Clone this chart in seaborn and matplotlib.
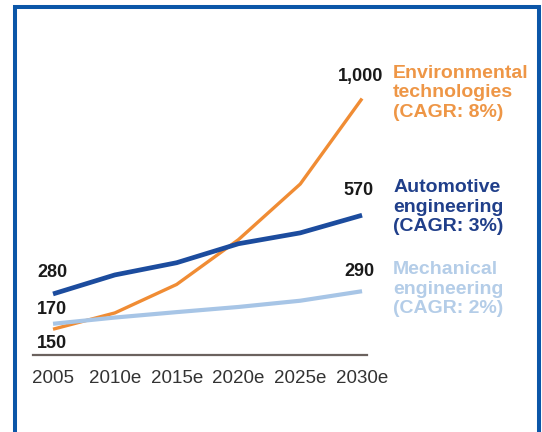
import matplotlib
matplotlib.use("Agg")
import matplotlib.pyplot as plt
from matplotlib.patches import Rectangle
import seaborn as sns
import pandas as pd

# Market volume index by sector
years = [2005, 2010, 2015, 2020, 2025, 2030]
tick_labels = ["2005", "2010e", "2015e", "2020e", "2025e", "2030e"]
environmental = [150, 210, 315, 480, 685, 1000]
automotive = [280, 350, 395, 465, 505, 570]
mechanical = [170, 193, 213, 232, 255, 290]

series_names = ["Environmental\ntechnologies\n(CAGR: 8%)",
                "Automotive\nengineering\n(CAGR: 3%)",
                "Mechanical\nengineering\n(CAGR: 2%)"]
series_keys = ["env", "auto", "mech"]
line_colors = ["#F08C34", "#1C4C9E", "#A7C5E6"]
text_colors = ["#EE9646", "#203F8A", "#B4CDE8"]
line_widths = [2.4, 3.4, 3.0]

sns.set_theme(style="white")
plt.rcParams["font.family"] = ["Liberation Sans", "DejaVu Sans"]

df = pd.DataFrame({
    "year": years * 3,
    "value": environmental + automotive + mechanical,
    "series": [k for k in series_keys for _ in years],
})

W, H = 542, 432
fig = plt.figure(figsize=(W / 100, H / 100), dpi=100)
fig.patch.set_facecolor("white")
ax = fig.add_axes([33 / W, (H - 355) / H, (367 - 33) / W, (355 - 60) / H])
ax.set_facecolor("white")

# draw the three series, each with its own width
for key, col, lw in zip(series_keys, line_colors, line_widths):
    sub = df[df["series"] == key]
    sns.lineplot(data=sub, x="year", y="value", color=col, linewidth=lw,
                 ax=ax, legend=False, solid_capstyle="butt")

ax.set_xlim(2003.38, 2030.4)
ax.set_ylim(55, 1142)
ax.set_xticks(years)
ax.set_xticklabels(tick_labels, fontsize=13.5, color="#333333")
ax.tick_params(axis="x", length=0, pad=11)
ax.set_yticks([])
ax.set_xlabel("")
ax.set_ylabel("")
for s in ["top", "right", "left"]:
    ax.spines[s].set_visible(False)
ax.spines["bottom"].set_color("#6B625E")
ax.spines["bottom"].set_linewidth(1.6)

series_vals = [environmental, automotive, mechanical]

# start values, left of the first point
start_offsets = [(-16, -14), (-16, 21), (-16, 14)]
for vals, off in zip(series_vals, start_offsets):
    ax.annotate(f"{vals[0]:,}", xy=(years[0], vals[0]), xytext=off,
                textcoords="offset pixels", ha="left", va="center",
                fontsize=13, fontweight="bold", color="#1A1A1A",
                annotation_clip=False)

# end values, above the last point
end_offsets = [(21, 22), (12, 25), (12, 20)]
for vals, off in zip(series_vals, end_offsets):
    ax.annotate(f"{vals[-1]:,}", xy=(years[-1], vals[-1]), xytext=off,
                textcoords="offset pixels", ha="right", va="center",
                fontsize=13, fontweight="bold", color="#1A1A1A",
                annotation_clip=False)

# series names with growth rates
name_offsets = [(31, 34), (31, 36), (31, 30)]
for vals, name, col, off in zip(series_vals, series_names, text_colors, name_offsets):
    ax.annotate(name, xy=(years[-1], vals[-1]), xytext=off,
                textcoords="offset pixels", ha="left", va="top",
                fontsize=14, fontweight="bold", color=col,
                linespacing=1.2, annotation_clip=False)

# blue frame around the panel
frame = Rectangle((15 / W, -20 / H), (539 - 15) / W, (H - 7 + 20) / H,
                  transform=fig.transFigure, fill=False,
                  edgecolor="#0B56A8", linewidth=2.9, clip_on=False)
fig.patches.append(frame)

fig.savefig("out.png", dpi=100)
